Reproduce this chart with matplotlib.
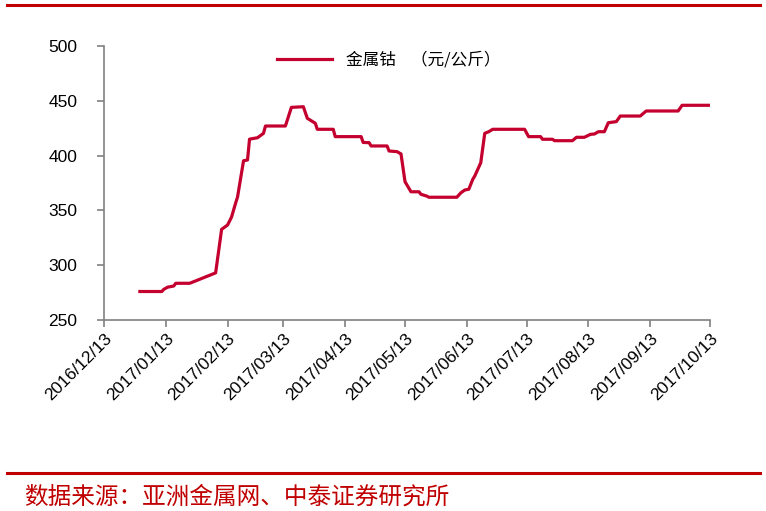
import matplotlib.pyplot as plt
import matplotlib.dates as mdates
import pandas as pd

plt.rcParams['font.family'] = ['Liberation Sans', 'Noto Sans CJK SC', 'DejaVu Sans']

# 金属钴 price (元/公斤)
dates = ['2016-12-31', '2017-01-11', '2017-01-12', '2017-01-14', '2017-01-17', '2017-01-18',
         '2017-01-25', '2017-02-07', '2017-02-10', '2017-02-13', '2017-02-15', '2017-02-17',
         '2017-02-18', '2017-02-21', '2017-02-23', '2017-02-24', '2017-02-28', '2017-03-03',
         '2017-03-04', '2017-03-14', '2017-03-17', '2017-03-23', '2017-03-25', '2017-03-29',
         '2017-03-30', '2017-04-07', '2017-04-08', '2017-04-21', '2017-04-22', '2017-04-25',
         '2017-04-26', '2017-05-04', '2017-05-05', '2017-05-09', '2017-05-11', '2017-05-13',
         '2017-05-16', '2017-05-20', '2017-05-21', '2017-05-24', '2017-05-25', '2017-06-08',
         '2017-06-10', '2017-06-12', '2017-06-14', '2017-06-16', '2017-06-17', '2017-06-20',
         '2017-06-22', '2017-06-24', '2017-06-26', '2017-07-12', '2017-07-14', '2017-07-20',
         '2017-07-21', '2017-07-26', '2017-07-27', '2017-08-05', '2017-08-07', '2017-08-11',
         '2017-08-14', '2017-08-16', '2017-08-18', '2017-08-21', '2017-08-23', '2017-08-27',
         '2017-08-29', '2017-09-08', '2017-09-11', '2017-09-27', '2017-09-29', '2017-10-13']
prices = [276, 276, 278, 280, 281, 283.5,
          283.5, 293, 332.7, 336.7, 344, 356.5,
          362.3, 395.3, 396, 415, 416.3, 420.3,
          427, 427, 444, 444.6, 434, 429.5,
          424, 424, 417.3, 417.3, 412, 411.8,
          408.8, 408.8, 404.2, 403.6, 401.5, 376.2,
          367, 367, 364.7, 363, 362, 362,
          366, 368.6, 369.3, 378.4, 381.4, 393.5,
          420.3, 421.8, 424, 424, 417.3, 417.3,
          414.9, 414.9, 413.6, 413.6, 416.7, 416.7,
          419.4, 419.7, 421.8, 421.8, 430, 431,
          436.1, 436.1, 440.7, 440.7, 445.9, 445.9]

tick_dates = ['2016-12-13', '2017-01-13', '2017-02-13', '2017-03-13', '2017-04-13', '2017-05-13',
              '2017-06-13', '2017-07-13', '2017-08-13', '2017-09-13', '2017-10-13']
yticks = [250, 300, 350, 400, 450, 500]

x = pd.to_datetime(dates)
xt = pd.to_datetime(tick_dates)

fig = plt.figure(figsize=(7.66, 5.11), dpi=100)
ax = fig.add_axes([104/766, 1 - 320/511, 606/766, 274/511])

ax.plot(x, prices, color='#C4002F', lw=2.3, solid_joinstyle='round', label='金属钴    （元/公斤）')

ax.set_xlim(xt[0], xt[-1])
ax.set_ylim(250, 500)
ax.set_yticks(yticks)
ax.set_xticks(xt)
ax.xaxis.set_major_formatter(mdates.DateFormatter('%Y/%m/%d'))
for lbl in ax.get_xticklabels():
    lbl.set_rotation(45)
    lbl.set_ha('right')
    lbl.set_va('top')
    lbl.set_rotation_mode('anchor')

for s in ['top', 'right']:
    ax.spines[s].set_visible(False)
for s in ['left', 'bottom']:
    ax.spines[s].set_color('#808080')
    ax.spines[s].set_linewidth(1.2)
ax.tick_params(colors='#808080', width=1.2, length=5, labelsize=12.5, labelcolor='black')
ax.tick_params(axis='y', pad=14)
ax.tick_params(axis='x', pad=3)

leg = ax.legend(loc='upper center', bbox_to_anchor=(0.47, 1.035), frameon=False,
                prop={'family': ['Noto Sans CJK SC'], 'size': 12}, handlelength=3.3)

# red separators and source note
fig.add_artist(plt.Line2D([7/766, 760/766], [1 - 5/511, 1 - 5/511], color='#C00000', lw=2.2))
fig.add_artist(plt.Line2D([7/766, 760/766], [1 - 473/511, 1 - 473/511], color='#C00000', lw=2.2))
fig.text(24/766, 1 - 497/511, '数据来源：亚洲金属网、中泰证券研究所', color='#C00000',
         fontsize=17, family=['Noto Sans CJK SC'], va='center', ha='left')

fig.savefig('out.png', dpi=100)
